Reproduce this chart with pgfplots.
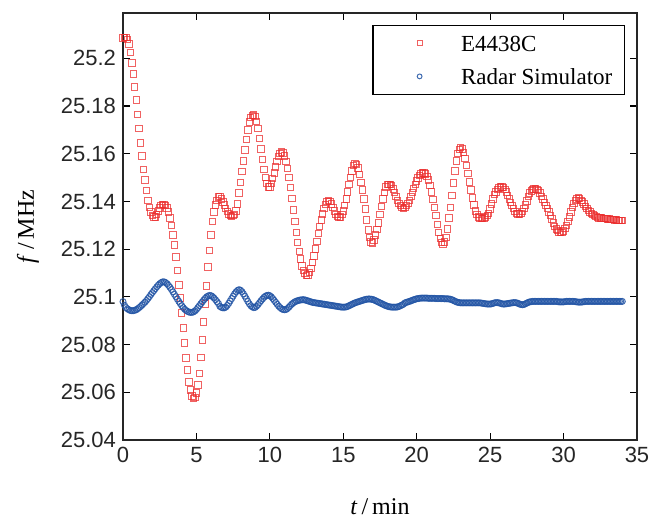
\documentclass[border=0pt]{standalone}
\usepackage{fontspec}
\setmainfont{Liberation Serif}
\newfontfamily\arialfont{Liberation Sans}
\usepackage{pgfplots}
\pgfplotsset{compat=1.18}

\definecolor{redm}{RGB}{235,45,45}
\definecolor{bluem}{RGB}{35,85,165}

\begin{document}
\begin{tikzpicture}
\useasboundingbox (-61.5pt,-40pt) rectangle (263pt,220pt);
\begin{axis}[
  scale only axis,
  width=257pt,
  height=213.5pt,
  xmin=0, xmax=35,
  ymin=25.04, ymax=25.219,
  xtick={0,5,10,15,20,25,30,35},
  ytick={25.04,25.06,25.08,25.1,25.12,25.14,25.16,25.18,25.2},
  yticklabels={25.04,25.06,25.08,25.1,25.12,25.14,25.16,25.18,25.2},
  scaled ticks=false,
  /pgf/number format/assume math mode=true,
  tick align=inside,
  xtick pos=both, ytick pos=both,
  xticklabel pos=lower, yticklabel pos=left,
  major tick length=3.5pt,
  tick style={black, line width=0.6pt},
  axis line style={black!85, line width=0.8pt},
  tick label style={font=\arialfont\fontsize{11}{13}\selectfont, text=black!85},
  xlabel={\textit{t}\,/\,min},
  ylabel={\textit{f}\,/\,MHz},
  label style={font=\fontsize{12}{14}\selectfont},
  xlabel style={at={(axis description cs:0.5,0)}, yshift=-33.5pt, anchor=center},
  ylabel style={at={(axis description cs:-0.185,0.5)}, anchor=center},
  legend image code/.code={\path[draw=none] (0pt,0pt) rectangle (30pt,0.1pt); \draw[#1, mark size=1.2pt] plot coordinates {(17.3pt,0pt)};},
  legend cell align=left,
  legend style={at={(rel axis cs:1,1)}, xshift=-6pt, yshift=-6pt, anchor=north east,
    draw=black, line width=0.6pt, inner xsep=6pt, inner ysep=5pt,
    row sep=8.7pt, column sep=8pt, font=\fontsize{11.5}{13}\selectfont,
    nodes={inner sep=0pt, text height=7.8pt, text depth=0pt}},
]
\addplot[only marks, mark=square, mark size=1.6pt, color=redm, line width=0.5pt, opacity=0.75] coordinates {
(0.0,25.2085)(0.1,25.2088)(0.2,25.2088)(0.3,25.2080)(0.4,25.2060)(0.5,25.2025)(0.6,25.1980)(0.7,25.1935)(0.8,25.1880)(0.9,25.1825)
(1.0,25.1765)(1.1,25.1705)(1.2,25.1645)(1.3,25.1590)(1.4,25.1535)(1.5,25.1490)(1.6,25.1445)(1.7,25.1405)(1.8,25.1375)(1.9,25.1355)
(2.0,25.1340)(2.1,25.1335)(2.2,25.1335)(2.3,25.1345)(2.4,25.1360)(2.5,25.1372)(2.6,25.1382)(2.7,25.1388)(2.8,25.1388)(2.9,25.1382)
(3.0,25.1372)(3.1,25.1355)(3.2,25.1330)(3.3,25.1300)(3.4,25.1260)(3.5,25.1217)(3.6,25.1167)(3.7,25.1110)(3.8,25.1050)(3.9,25.0995)
(4.0,25.0932)(4.1,25.0870)(4.2,25.0806)(4.3,25.0744)(4.4,25.0693)(4.5,25.0643)(4.6,25.0610)(4.7,25.0585)(4.8,25.0575)(4.9,25.0578)
(5.0,25.0597)(5.1,25.0630)(5.2,25.0680)(5.3,25.0745)(5.4,25.0820)(5.5,25.0895)(5.6,25.0970)(5.7,25.1045)(5.8,25.1125)(5.9,25.1195)
(6.0,25.1260)(6.1,25.1315)(6.2,25.1355)(6.3,25.1385)(6.4,25.1405)(6.5,25.1418)(6.6,25.1420)(6.7,25.1410)(6.8,25.1398)(6.9,25.1385)
(7.0,25.1370)(7.1,25.1357)(7.2,25.1347)(7.3,25.1340)(7.4,25.1338)(7.5,25.1340)(7.6,25.1345)(7.7,25.1360)(7.8,25.1390)(7.9,25.1435)
(8.0,25.1480)(8.1,25.1525)(8.2,25.1570)(8.3,25.1615)(8.4,25.1660)(8.5,25.1700)(8.6,25.1733)(8.7,25.1752)(8.8,25.1760)(8.9,25.1762)
(9.0,25.1755)(9.1,25.1735)(9.2,25.1705)(9.3,25.1665)(9.4,25.1620)(9.5,25.1575)(9.6,25.1535)(9.7,25.1500)(9.8,25.1475)(9.9,25.1460)
(10.0,25.1460)(10.1,25.1475)(10.2,25.1495)(10.3,25.1520)(10.4,25.1545)(10.5,25.1568)(10.6,25.1588)(10.7,25.1602)(10.8,25.1607)(10.9,25.1603)
(11.0,25.1590)(11.1,25.1568)(11.2,25.1538)(11.3,25.1500)(11.4,25.1458)(11.5,25.1412)(11.6,25.1365)(11.7,25.1315)(11.8,25.1270)(11.9,25.1228)
(12.0,25.1190)(12.1,25.1158)(12.2,25.1130)(12.3,25.1110)(12.4,25.1097)(12.5,25.1090)(12.6,25.1092)(12.7,25.1102)(12.8,25.1120)(12.9,25.1145)
(13.0,25.1172)(13.1,25.1200)(13.2,25.1232)(13.3,25.1265)(13.4,25.1295)(13.5,25.1323)(13.6,25.1348)(13.7,25.1370)(13.8,25.1388)(13.9,25.1400)
(14.0,25.1405)(14.1,25.1400)(14.2,25.1390)(14.3,25.1375)(14.4,25.1360)(14.5,25.1346)(14.6,25.1336)(14.7,25.1332)(14.8,25.1334)(14.9,25.1345)
(15.0,25.1360)(15.1,25.1382)(15.2,25.1410)(15.3,25.1440)(15.4,25.1470)(15.5,25.1500)(15.6,25.1528)(15.7,25.1550)(15.8,25.1560)(15.9,25.1556)
(16.0,25.1540)(16.1,25.1512)(16.2,25.1480)(16.3,25.1448)(16.4,25.1410)(16.5,25.1368)(16.6,25.1322)(16.7,25.1280)(16.8,25.1250)(16.9,25.1230)
(17.0,25.1225)(17.1,25.1238)(17.2,25.1260)(17.3,25.1282)(17.4,25.1310)(17.5,25.1345)(17.6,25.1378)(17.7,25.1410)(17.8,25.1438)(17.9,25.1460)
(18.0,25.1470)(18.1,25.1472)(18.2,25.1470)(18.3,25.1465)(18.4,25.1452)(18.5,25.1437)(18.6,25.1420)(18.7,25.1405)(18.8,25.1392)(18.9,25.1382)
(19.0,25.1375)(19.1,25.1370)(19.2,25.1375)(19.3,25.1382)(19.4,25.1392)(19.5,25.1405)(19.6,25.1420)(19.7,25.1438)(19.8,25.1455)(19.9,25.1470)
(20.0,25.1485)(20.1,25.1498)(20.2,25.1508)(20.3,25.1515)(20.4,25.1520)(20.5,25.1520)(20.6,25.1515)(20.7,25.1505)(20.8,25.1490)(20.9,25.1468)
(21.0,25.1440)(21.1,25.1408)(21.2,25.1375)(21.3,25.1340)(21.4,25.1303)(21.5,25.1270)(21.6,25.1245)(21.7,25.1228)(21.8,25.1220)(21.9,25.1230)
(22.0,25.1250)(22.1,25.1285)(22.2,25.1330)(22.3,25.1375)(22.4,25.1425)(22.5,25.1478)(22.6,25.1528)(22.7,25.1570)(22.8,25.1600)(22.9,25.1618)
(23.0,25.1625)(23.1,25.1620)(23.2,25.1605)(23.3,25.1580)(23.4,25.1550)(23.5,25.1517)(23.6,25.1482)(23.7,25.1448)(23.8,25.1415)(23.9,25.1385)
(24.0,25.1360)(24.1,25.1345)(24.2,25.1335)(24.3,25.1330)(24.4,25.1329)(24.5,25.1329)(24.6,25.1330)(24.7,25.1334)(24.8,25.1340)(24.9,25.1350)
(25.0,25.1368)(25.1,25.1390)(25.2,25.1410)(25.3,25.1428)(25.4,25.1440)(25.5,25.1450)(25.6,25.1456)(25.7,25.1460)(25.8,25.1460)(25.9,25.1458)
(26.0,25.1450)(26.1,25.1440)(26.2,25.1425)(26.3,25.1410)(26.4,25.1395)(26.5,25.1382)(26.6,25.1370)(26.7,25.1358)(26.8,25.1350)(26.9,25.1348)
(27.0,25.1348)(27.1,25.1350)(27.2,25.1357)(27.3,25.1370)(27.4,25.1385)(27.5,25.1402)(27.6,25.1420)(27.7,25.1435)(27.8,25.1444)(27.9,25.1450)
(28.0,25.1452)(28.1,25.1452)(28.2,25.1450)(28.3,25.1445)(28.4,25.1435)(28.5,25.1422)(28.6,25.1410)(28.7,25.1396)(28.8,25.1383)(28.9,25.1370)
(29.0,25.1355)(29.1,25.1340)(29.2,25.1327)(29.3,25.1310)(29.4,25.1296)(29.5,25.1285)(29.6,25.1277)(29.7,25.1272)(29.8,25.1270)(29.9,25.1271)
(30.0,25.1276)(30.1,25.1286)(30.2,25.1300)(30.3,25.1316)(30.4,25.1335)(30.5,25.1355)(30.6,25.1375)(30.7,25.1392)(30.8,25.1405)(30.9,25.1411)
(31.0,25.1415)(31.1,25.1412)(31.2,25.1405)(31.3,25.1398)(31.4,25.1390)(31.5,25.1380)(31.6,25.1370)(31.7,25.1362)(31.8,25.1355)(31.9,25.1350)
(32.0,25.1345)(32.1,25.1340)(32.2,25.1336)(32.3,25.1333)(32.4,25.1331)(32.5,25.1330)(32.6,25.1330)(32.7,25.1329)(32.8,25.1328)(32.9,25.1328)
(33.0,25.1327)(33.1,25.1326)(33.2,25.1325)(33.3,25.1325)(33.4,25.1324)(33.5,25.1323)(33.6,25.1322)(33.7,25.1321)(33.8,25.1320)(33.9,25.1320)
(34.0,25.1320)
};
\addplot[only marks, mark=o, mark size=1.5pt, color=bluem, line width=0.5pt, opacity=0.85] coordinates {
(0.0,25.0980)(0.1,25.0965)(0.2,25.0955)(0.3,25.0950)(0.4,25.0946)(0.5,25.0943)(0.6,25.0942)(0.7,25.0942)(0.8,25.0944)(0.9,25.0946)
(1.0,25.0950)(1.1,25.0955)(1.2,25.0960)(1.3,25.0966)(1.4,25.0972)(1.5,25.0978)(1.6,25.0985)(1.7,25.0993)(1.8,25.1001)(1.9,25.1010)
(2.0,25.1018)(2.1,25.1026)(2.2,25.1034)(2.3,25.1042)(2.4,25.1049)(2.5,25.1055)(2.6,25.1060)(2.7,25.1063)(2.8,25.1063)(2.9,25.1060)
(3.0,25.1055)(3.1,25.1048)(3.2,25.1040)(3.3,25.1031)(3.4,25.1021)(3.5,25.1011)(3.6,25.1001)(3.7,25.0991)(3.8,25.0981)(3.9,25.0972)
(4.0,25.0963)(4.1,25.0955)(4.2,25.0948)(4.3,25.0943)(4.4,25.0939)(4.5,25.0936)(4.6,25.0935)(4.7,25.0935)(4.8,25.0937)(4.9,25.0941)
(5.0,25.0947)(5.1,25.0955)(5.2,25.0963)(5.3,25.0971)(5.4,25.0979)(5.5,25.0987)(5.6,25.0994)(5.7,25.1000)(5.8,25.1004)(5.9,25.1006)
(6.0,25.1005)(6.1,25.1001)(6.2,25.0995)(6.3,25.0988)(6.4,25.0980)(6.5,25.0972)(6.6,25.0960)(6.7,25.0956)(6.8,25.0954)(6.9,25.0954)
(7.0,25.0957)(7.1,25.0964)(7.2,25.0973)(7.3,25.0983)(7.4,25.0993)(7.5,25.1003)(7.6,25.1013)(7.7,25.1021)(7.8,25.1027)(7.9,25.1030)
(8.0,25.1028)(8.1,25.1022)(8.2,25.1013)(8.3,25.1003)(8.4,25.0992)(8.5,25.0981)(8.6,25.0971)(8.7,25.0963)(8.8,25.0958)(8.9,25.0955)
(9.0,25.0956)(9.1,25.0961)(9.2,25.0968)(9.3,25.0976)(9.4,25.0984)(9.5,25.0991)(9.6,25.0998)(9.7,25.1003)(9.8,25.1006)(9.9,25.1007)
(10.0,25.1005)(10.1,25.1000)(10.2,25.0993)(10.3,25.0985)(10.4,25.0977)(10.5,25.0969)(10.6,25.0961)(10.7,25.0955)(10.8,25.0950)(10.9,25.0947)
(11.0,25.0946)(11.1,25.0947)(11.2,25.0951)(11.3,25.0957)(11.4,25.0964)(11.5,25.0970)(11.6,25.0975)(11.7,25.0979)(11.8,25.0982)(11.9,25.0984)
(12.0,25.0986)(12.1,25.0987)(12.2,25.0988)(12.3,25.0988)(12.4,25.0987)(12.5,25.0985)(12.6,25.0983)(12.7,25.0981)(12.8,25.0979)(12.9,25.0977)
(13.0,25.0976)(13.1,25.0975)(13.2,25.0974)(13.3,25.0973)(13.4,25.0972)(13.5,25.0971)(13.6,25.0970)(13.7,25.0969)(13.8,25.0968)(13.9,25.0967)
(14.0,25.0966)(14.1,25.0965)(14.2,25.0964)(14.3,25.0963)(14.4,25.0962)(14.5,25.0961)(14.6,25.0960)(14.7,25.0959)(14.8,25.0958)(14.9,25.0957)
(15.0,25.0957)(15.1,25.0957)(15.2,25.0958)(15.3,25.0960)(15.4,25.0963)(15.5,25.0966)(15.6,25.0969)(15.7,25.0972)(15.8,25.0975)(15.9,25.0977)
(16.0,25.0979)(16.1,25.0981)(16.2,25.0983)(16.3,25.0985)(16.4,25.0987)(16.5,25.0989)(16.6,25.0990)(16.7,25.0991)(16.8,25.0991)(16.9,25.0990)
(17.0,25.0989)(17.1,25.0987)(17.2,25.0984)(17.3,25.0981)(17.4,25.0978)(17.5,25.0975)(17.6,25.0972)(17.7,25.0969)(17.8,25.0966)(17.9,25.0963)
(18.0,25.0961)(18.1,25.0959)(18.2,25.0958)(18.3,25.0957)(18.4,25.0957)(18.5,25.0957)(18.6,25.0957)(18.7,25.0958)(18.8,25.0960)(18.9,25.0963)
(19.0,25.0966)(19.1,25.0969)(19.2,25.0975)(19.3,25.0977)(19.4,25.0979)(19.5,25.0981)(19.6,25.0983)(19.7,25.0986)(19.8,25.0988)(19.9,25.0990)
(20.0,25.0992)(20.1,25.0993)(20.2,25.0994)(20.3,25.0995)(20.4,25.0995)(20.5,25.0995)(20.6,25.0995)(20.7,25.0995)(20.8,25.0994)(20.9,25.0994)
(21.0,25.0994)(21.1,25.0994)(21.2,25.0994)(21.3,25.0993)(21.4,25.0993)(21.5,25.0993)(21.6,25.0993)(21.7,25.0993)(21.8,25.0993)(21.9,25.0992)
(22.0,25.0992)(22.1,25.0992)(22.2,25.0991)(22.3,25.0990)(22.4,25.0988)(22.5,25.0985)(22.6,25.0982)(22.7,25.0979)(22.8,25.0977)(22.9,25.0976)
(23.0,25.0975)(23.1,25.0975)(23.2,25.0975)(23.3,25.0975)(23.4,25.0975)(23.5,25.0975)(23.6,25.0975)(23.7,25.0975)(23.8,25.0975)(23.9,25.0975)
(24.0,25.0975)(24.1,25.0975)(24.2,25.0975)(24.3,25.0975)(24.4,25.0974)(24.5,25.0973)(24.6,25.0972)(24.7,25.0971)(24.8,25.0970)(24.9,25.0970)
(25.0,25.0970)(25.1,25.0971)(25.2,25.0973)(25.3,25.0975)(25.4,25.0976)(25.5,25.0976)(25.6,25.0975)(25.7,25.0973)(25.8,25.0971)(25.9,25.0970)
(26.0,25.0970)(26.1,25.0971)(26.2,25.0972)(26.3,25.0973)(26.4,25.0974)(26.5,25.0975)(26.6,25.0976)(26.7,25.0976)(26.8,25.0975)(26.9,25.0973)
(27.0,25.0970)(27.1,25.0968)(27.2,25.0967)(27.3,25.0968)(27.4,25.0971)(27.5,25.0974)(27.6,25.0977)(27.7,25.0979)(27.8,25.0980)(27.9,25.0981)
(28.0,25.0981)(28.1,25.0981)(28.2,25.0981)(28.3,25.0981)(28.4,25.0981)(28.5,25.0981)(28.6,25.0981)(28.7,25.0981)(28.8,25.0981)(28.9,25.0981)
(29.0,25.0981)(29.1,25.0981)(29.2,25.0981)(29.3,25.0981)(29.4,25.0981)(29.5,25.0981)(29.6,25.0980)(29.7,25.0979)(29.8,25.0979)(29.9,25.0979)
(30.0,25.0979)(30.1,25.0980)(30.2,25.0981)(30.3,25.0981)(30.4,25.0981)(30.5,25.0981)(30.6,25.0981)(30.7,25.0981)(30.8,25.0980)(30.9,25.0979)
(31.0,25.0978)(31.1,25.0978)(31.2,25.0978)(31.3,25.0979)(31.4,25.0980)(31.5,25.0981)(31.6,25.0981)(31.7,25.0981)(31.8,25.0981)(31.9,25.0981)
(32.0,25.0981)(32.1,25.0981)(32.2,25.0981)(32.3,25.0981)(32.4,25.0981)(32.5,25.0981)(32.6,25.0981)(32.7,25.0981)(32.8,25.0981)(32.9,25.0981)
(33.0,25.0981)(33.1,25.0981)(33.2,25.0981)(33.3,25.0981)(33.4,25.0981)(33.5,25.0981)(33.6,25.0981)(33.7,25.0981)(33.8,25.0981)(33.9,25.0981)
(34.0,25.0981)
};
\legend{E4438C, Radar Simulator}
\end{axis}
\end{tikzpicture}
\end{document}
